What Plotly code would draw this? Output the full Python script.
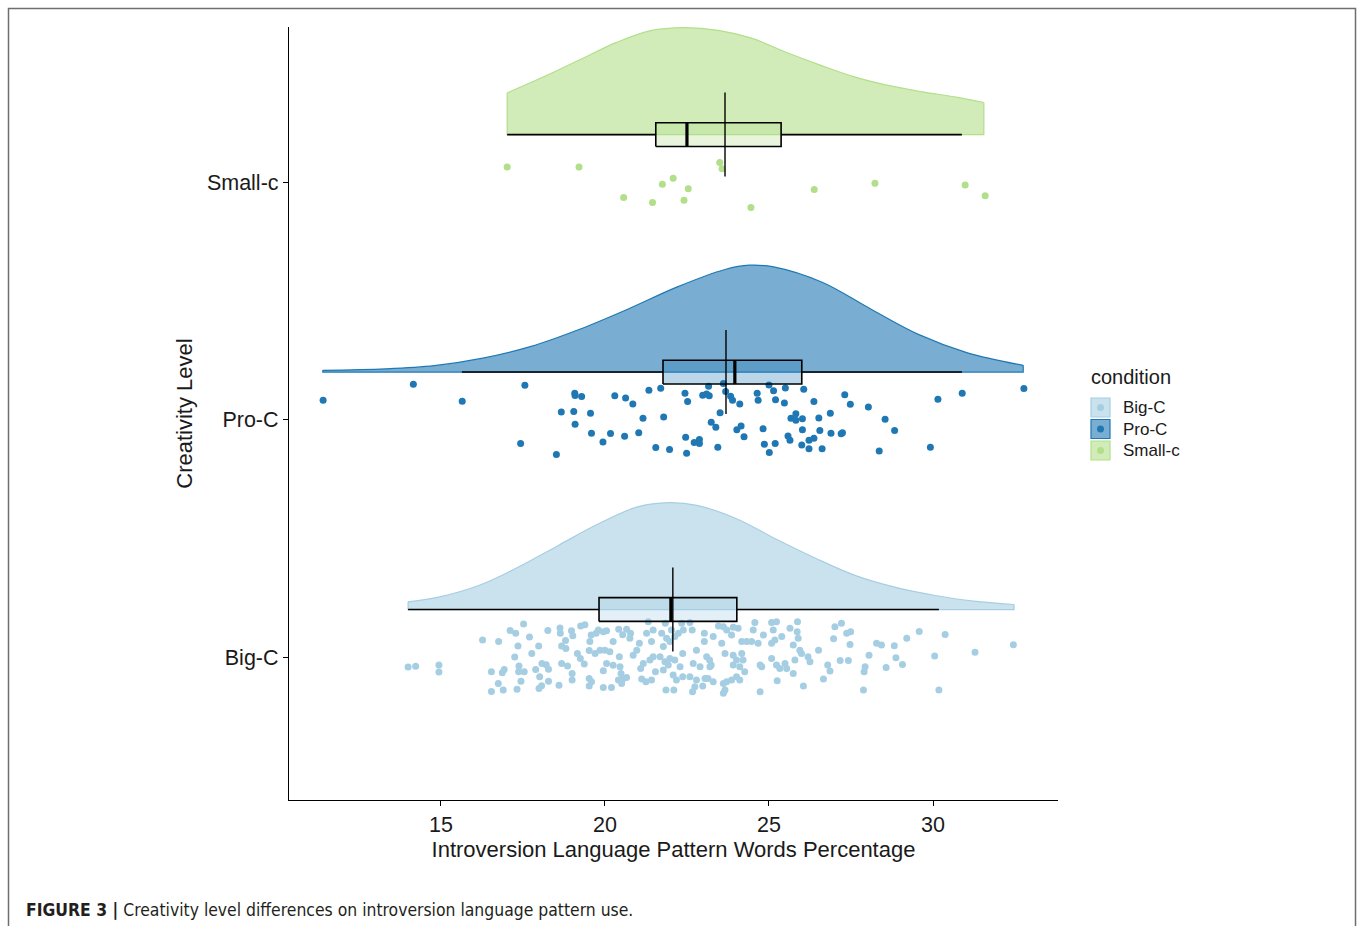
import plotly.graph_objects as go

# ---------------- canvas / layout geometry ----------------
W, H = 1358, 926
ML, MR, MT, MB = 289, 300, 27, 126
PW = W - ML - MR
PH = H - MT - MB


def px2x(px):
    return (px - ML) / PW


def py2y(py):
    return (H - MB - py) / PH


def rgba(hexc, a):
    hexc = hexc.lstrip("#")
    r, g, b = int(hexc[0:2], 16), int(hexc[2:4], 16), int(hexc[4:6], 16)
    return f"rgba({r},{g},{b},{a})"


# ---------------- data ----------------
CATEGORIES = ["Big-C", "Pro-C", "Small-c"]
CAT_POS = [1, 2, 3]
COLORS = ["#a6cee3", "#1f78b4", "#b2df8a"]

# box-plot statistics (per category)
Q1 = [19.82, 21.77, 21.55]
MEDIAN = [22.01, 23.96, 22.50]
Q3 = [24.02, 26.00, 25.37]
WHISKER_LOW = [14.00, 15.64, 17.02]
WHISKER_HIGH = [30.18, 30.88, 30.88]
MEAN = [22.07, 23.69, 23.66]

# density curves (x values and relative density, max = 1)
BIGC_DENS_X = [14.0, 14.96, 16.17, 17.38, 18.58, 19.79, 20.99, 21.96, 22.80,
               24.01, 25.21, 26.42, 27.62, 28.83, 30.03, 31.24, 32.47]
BIGC_DENS_Y = [0.072, 0.118, 0.227, 0.40, 0.60, 0.80, 0.96, 1.0, 0.975,
               0.85, 0.66, 0.48, 0.32, 0.21, 0.134, 0.078, 0.047]
PROC_DENS_X = [11.4, 13.32, 14.80, 16.28, 17.75, 19.23, 20.71, 22.19, 23.66,
               24.40, 25.14, 26.62, 28.10, 29.57, 31.05, 32.75]
PROC_DENS_Y = [0.016, 0.03, 0.06, 0.13, 0.24, 0.40, 0.59, 0.795, 0.96,
               1.0, 0.984, 0.84, 0.59, 0.35, 0.18, 0.063]
SMALLC_DENS_X = [17.02, 18.2, 19.30, 20.34, 21.37, 22.41, 23.45, 24.49, 25.52,
                 26.56, 27.60, 28.63, 29.67, 30.71, 31.55]
SMALLC_DENS_Y = [0.39, 0.55, 0.71, 0.86, 0.97, 1.00, 0.975, 0.90, 0.77,
                 0.65, 0.54, 0.46, 0.40, 0.35, 0.30]

# jittered raw observations (x value, jittered y position)
SMALLC_POINTS = [
    (17.02, 3.063), (19.21, 3.063), (23.50, 3.082), (23.57, 3.056), (22.08, 3.016),
    (21.75, 2.991), (22.54, 2.972), (20.57, 2.935), (21.45, 2.914), (22.41, 2.923),
    (24.45, 2.893), (26.38, 2.969), (28.23, 2.995), (30.98, 2.988), (31.59, 2.942),
]

PROC_POINTS = [
    (11.41, 2.081), (14.16, 2.149), (15.65, 2.077), (17.56, 2.144), (17.43, 1.899),
    (18.52, 1.853), (19.08, 2.111), (19.09, 2.101), (19.29, 2.097), (20.30, 2.100),
    (20.63, 2.091), (20.85, 2.066), (21.34, 2.123), (21.70, 2.132), (18.67, 2.032),
    (19.05, 2.034), (19.56, 2.027), (19.09, 1.980), (21.16, 2.005), (21.79, 2.011),
    (19.59, 1.942), (20.17, 1.941), (20.60, 1.930), (21.03, 1.944), (19.94, 1.906),
    (21.55, 1.882), (21.97, 1.874), (22.44, 2.111), (22.52, 2.076), (22.46, 1.925),
    (22.49, 1.858), (22.72, 1.903), (22.88, 1.916), (22.88, 1.899), (22.98, 2.102),
    (23.10, 2.108), (23.18, 2.100), (23.16, 2.140), (23.61, 2.152), (23.68, 2.118),
    (23.83, 2.098), (23.89, 2.081), (24.11, 2.066), (23.51, 2.029), (23.24, 1.989),
    (23.38, 1.968), (23.44, 1.883), (24.02, 1.957), (24.15, 1.973), (24.24, 1.928),
    (24.64, 2.111), (24.67, 2.081), (25.00, 2.146), (25.14, 2.121), (25.20, 2.083),
    (25.50, 2.133), (25.47, 2.070), (26.06, 2.128), (26.37, 2.076), (27.31, 2.104),
    (27.48, 2.064), (28.03, 2.053), (30.15, 2.085), (30.89, 2.111), (32.77, 2.131),
    (24.82, 1.961), (24.86, 1.896), (25.19, 1.899), (25.01, 1.861), (25.58, 1.931),
    (25.64, 1.913), (25.67, 2.005), (25.82, 2.024), (25.82, 1.997), (26.02, 2.003),
    (26.02, 1.957), (26.00, 1.893), (26.22, 1.913), (26.37, 1.921), (26.22, 1.877),
    (26.62, 1.877), (26.52, 2.007), (26.55, 1.954), (26.87, 2.027), (26.89, 1.942),
    (27.20, 1.940), (27.24, 1.944), (28.54, 2.001), (28.83, 1.954), (28.36, 1.868),
    (29.92, 1.883),
]

BIGC_POINTS = [
    (14.00, 0.958), (14.23, 0.961), (14.94, 0.966), (14.94, 0.937), (16.27, 1.072),
    (16.76, 1.065), (16.54, 0.938), (16.93, 0.948), (16.87, 0.934), (16.75, 0.889),
    (16.54, 0.855), (16.90, 0.861), (17.11, 1.112), (17.28, 1.100), (17.52, 1.139),
    (17.70, 1.084), (17.35, 1.046), (17.25, 1.000), (17.38, 0.962), (17.37, 0.938),
    (17.54, 0.938), (17.44, 0.898), (17.32, 0.864), (17.77, 1.015), (17.98, 1.046),
    (17.89, 0.948), (18.08, 0.973), (18.21, 0.968), (18.28, 0.949), (18.01, 0.917),
    (18.28, 0.898), (18.07, 0.879), (17.99, 0.867), (18.26, 1.112), (18.63, 1.122),
    (18.64, 1.100), (18.68, 1.046), (18.80, 1.070), (18.98, 1.111), (19.02, 1.090),
    (18.81, 1.036), (18.68, 0.973), (18.86, 0.962), (19.00, 0.931), (19.00, 0.903),
    (18.60, 0.881), (19.26, 1.131), (19.39, 1.136), (19.16, 1.015), (19.25, 0.994),
    (19.37, 0.971), (19.54, 1.065), (19.58, 1.093), (19.73, 1.100), (19.80, 1.114),
    (19.95, 1.107), (19.70, 1.015), (19.85, 1.029), (20.00, 1.029), (20.15, 1.022),
    (19.52, 1.027), (19.52, 0.910), (19.59, 0.896), (19.52, 0.878), (19.95, 0.942),
    (20.05, 0.973), (19.95, 0.872), (20.20, 0.872), (20.05, 1.111), (20.25, 1.065),
    (20.42, 1.117), (20.66, 1.117), (20.78, 1.100), (20.54, 1.094), (20.76, 1.079),
    (20.44, 1.001), (20.25, 0.965), (20.46, 0.959), (20.49, 0.931), (20.56, 0.910),
    (20.66, 0.914), (20.41, 0.903), (20.51, 0.889), (21.32, 1.149), (21.47, 1.114),
    (21.05, 1.058), (20.97, 1.029), (20.86, 1.008), (21.27, 1.100), (21.42, 1.065),
    (21.17, 0.973), (21.09, 0.952), (21.12, 0.907), (21.25, 0.896), (21.37, 0.987),
    (21.47, 1.001), (21.54, 0.938), (21.42, 0.903), (21.84, 1.142), (21.73, 1.100),
    (21.88, 1.079), (22.03, 1.114), (21.78, 1.044), (21.98, 1.065), (22.13, 1.086),
    (22.24, 1.100), (22.39, 1.114), (22.34, 1.142), (21.68, 1.001), (21.83, 0.980),
    (21.98, 0.994), (22.13, 0.987), (21.93, 0.966), (21.78, 0.945), (22.08, 0.924),
    (22.29, 0.959), (22.18, 0.903), (21.86, 0.861), (22.10, 0.861), (22.37, 1.015),
    (22.37, 0.917), (22.59, 1.145), (22.66, 1.114), (23.03, 1.100), (23.03, 1.065),
    (22.79, 1.029), (22.69, 0.973), (22.90, 0.959), (23.10, 1.001), (22.59, 0.917),
    (22.79, 0.903), (23.05, 0.910), (22.74, 0.875), (22.67, 0.854), (22.98, 0.878),
    (23.20, 0.959),
    (23.30, 1.086), (23.46, 1.131), (23.61, 1.128), (23.71, 1.114), (23.91, 1.125),
    (24.06, 1.121), (23.86, 1.093), (23.56, 1.058), (23.66, 1.015), (23.19, 0.987),
    (23.24, 0.966), (23.14, 0.910), (23.30, 0.896), (23.61, 0.889), (23.71, 0.896),
    (23.86, 0.903), (24.01, 0.917), (24.11, 0.903), (23.66, 0.861), (23.61, 0.847),
    (23.91, 1.008), (24.01, 0.987), (24.17, 1.015), (23.91, 0.966), (24.11, 0.959),
    (24.21, 0.987), (24.26, 0.938), (24.17, 1.065), (24.32, 1.065), (24.47, 1.065),
    (24.57, 1.145), (24.52, 1.114), (24.67, 1.058), (24.83, 1.093), (25.08, 1.145),
    (25.23, 1.149), (25.13, 1.114), (25.39, 1.086), (25.64, 1.121), (25.87, 1.149),
    (25.86, 1.107), (25.89, 1.079), (25.08, 1.058), (25.18, 1.072), (25.74, 1.051),
    (25.94, 1.029), (25.99, 1.015), (26.19, 1.001), (26.25, 0.980), (24.73, 0.966),
    (24.78, 0.959), (25.08, 0.994), (25.23, 0.966), (25.33, 0.952), (25.49, 0.973),
    (25.54, 0.952), (25.79, 0.987), (25.74, 0.931), (25.25, 0.900), (24.73, 0.854),
    (26.05, 0.878), (26.51, 1.029), (26.97, 1.077), (27.01, 1.128), (27.21, 1.142),
    (27.37, 1.100), (27.49, 1.107), (27.47, 1.053), (26.79, 0.966), (26.86, 0.941),
    (26.66, 0.907), (27.17, 0.985), (27.42, 0.985), (28.05, 1.008), (28.28, 1.058),
    (28.43, 1.051), (28.82, 1.048), (29.20, 1.079), (29.58, 1.108), (28.87, 0.997),
    (29.07, 0.969), (28.57, 0.956), (27.93, 0.959), (27.90, 0.938), (27.88, 0.861),
    (30.05, 1.004), (30.18, 0.861), (30.37, 1.095), (31.28, 1.020), (32.45, 1.052),
]

DENS_X = [BIGC_DENS_X, PROC_DENS_X, SMALLC_DENS_X]
DENS_Y = [BIGC_DENS_Y, PROC_DENS_Y, SMALLC_DENS_Y]
POINTS = [BIGC_POINTS, PROC_POINTS, SMALLC_POINTS]

X_TICKS = [15, 20, 25, 30]
X_RANGE = [10.37, 33.81]
Y_RANGE = [0.398, 3.653]

# ---------------- styling constants ----------------
NUDGE = 0.2        # cloud / box offset above category
DENS_SCALE = 0.45  # max height of density cloud
BOX_W = 0.1
MEAN_HALF = 0.177
FONT = "Liberation Sans, Arial, Helvetica, sans-serif"

fig = go.Figure()

# clouds (half violins)
for i, cat in enumerate(CATEGORIES):
    base = CAT_POS[i] + NUDGE
    col = COLORS[i]
    dx = DENS_X[i]
    top = [base + DENS_SCALE * v for v in DENS_Y[i]]
    fig.add_trace(go.Scatter(
        x=[dx[0], dx[0], dx[-1], dx[-1]], y=[top[0], base, base, top[-1]],
        mode="lines", line=dict(color=col, width=1.2), hoverinfo="skip",
        showlegend=False))
    fig.add_trace(go.Scatter(
        x=dx, y=top, mode="lines", fill="tonexty", fillcolor=rgba(col, 0.6),
        line=dict(color=col, width=1.2, shape="spline", smoothing=1.0),
        hoverinfo="skip", showlegend=False))

# rain (jittered points)
for i, cat in enumerate(CATEGORIES):
    pts = POINTS[i]
    fig.add_trace(go.Scatter(
        x=[p[0] for p in pts], y=[p[1] for p in pts], mode="markers",
        marker=dict(color=COLORS[i], size=7, line=dict(width=0)),
        name=cat, showlegend=False))

# box plots (drawn with scatter so they sit above the clouds)
for i, cat in enumerate(CATEGORIES):
    base = CAT_POS[i] + NUDGE
    lo, hi = base - BOX_W / 2, base + BOX_W / 2
    fig.add_trace(go.Scatter(
        x=[WHISKER_LOW[i], Q1[i], None, Q3[i], WHISKER_HIGH[i]],
        y=[base, base, None, base, base],
        mode="lines", line=dict(color="black", width=1.6), hoverinfo="skip",
        showlegend=False))
    fig.add_trace(go.Scatter(
        x=[Q1[i], Q3[i], Q3[i], Q1[i], Q1[i]], y=[lo, lo, hi, hi, lo],
        mode="lines", fill="toself", fillcolor=rgba(COLORS[i], 0.3),
        line=dict(color="black", width=1.6), hoverinfo="skip",
        showlegend=False))
    fig.add_trace(go.Scatter(
        x=[MEDIAN[i], MEDIAN[i]], y=[lo, hi],
        mode="lines", line=dict(color="black", width=3.2), hoverinfo="skip",
        showlegend=False))
    fig.add_trace(go.Scatter(
        x=[MEAN[i], MEAN[i]], y=[base - MEAN_HALF, base + MEAN_HALF],
        mode="lines", line=dict(color="black", width=1.4), hoverinfo="skip",
        showlegend=False))

# ---------------- manual legend ----------------
shapes = []
annotations = []
annotations.append(dict(
    x=px2x(1089), y=py2y(377), xref="paper", yref="paper", text="condition",
    showarrow=False, xanchor="left", yanchor="middle",
    font=dict(family=FONT, size=20, color="#1a1a1a")))
key_tops = [398, 419.5, 441]
for i, cat in enumerate(CATEGORIES):
    t = key_tops[i]
    shapes.append(dict(
        type="rect", xref="paper", yref="paper",
        x0=px2x(1091), x1=px2x(1110), y0=py2y(t + 19), y1=py2y(t),
        fillcolor=rgba(COLORS[i], 0.6), line=dict(color=COLORS[i], width=1.2)))
    cy = t + 9.5
    shapes.append(dict(
        type="circle", xref="paper", yref="paper",
        x0=px2x(1097), x1=px2x(1104), y0=py2y(cy + 3.5), y1=py2y(cy - 3.5),
        fillcolor=COLORS[i], line=dict(width=0)))
    annotations.append(dict(
        x=px2x(1121), y=py2y(cy), xref="paper", yref="paper", text=cat,
        showarrow=False, xanchor="left", yanchor="middle",
        font=dict(family=FONT, size=17, color="#1a1a1a")))

# caption
annotations.append(dict(
    x=px2x(24), y=py2y(910), xref="paper", yref="paper",
    text="<b>FIGURE 3 |</b> Creativity level differences on introversion language pattern use.",
    showarrow=False, xanchor="left", yanchor="middle",
    font=dict(family="Liberation Sans Narrow, Arial Narrow, DejaVu Sans Condensed, sans-serif",
              size=17.4, color="#231f20")))

# outer frame
shapes.append(dict(
    type="rect", xref="paper", yref="paper",
    x0=px2x(8.5), x1=px2x(1355.5), y0=py2y(940), y1=py2y(8.5),
    line=dict(color="#6e6e6e", width=1.5), fillcolor="rgba(0,0,0,0)"))

axis_common = dict(
    showline=True, linecolor="black", linewidth=1.3, mirror=False,
    ticks="outside", ticklen=5, tickwidth=1.3, tickcolor="black",
    showgrid=False, zeroline=False,
    tickfont=dict(family=FONT, size=21.5, color="#1a1a1a"),
)

fig.update_layout(
    width=W, height=H,
    margin=dict(l=ML, r=MR, t=MT, b=MB),
    paper_bgcolor="white", plot_bgcolor="white",
    showlegend=False,
    font=dict(family=FONT, color="#1a1a1a"),
    xaxis=dict(range=X_RANGE, tickvals=X_TICKS,
               title=dict(text="Introversion Language Pattern Words Percentage",
                          font=dict(family=FONT, size=22, color="#1a1a1a"), standoff=5),
               **axis_common),
    yaxis=dict(range=Y_RANGE, tickvals=CAT_POS, ticktext=CATEGORIES,
               title=dict(text="Creativity Level",
                          font=dict(family=FONT, size=22, color="#1a1a1a"), standoff=8),
               **axis_common),
    shapes=shapes,
    annotations=annotations,
)

fig.write_html("out.html")
